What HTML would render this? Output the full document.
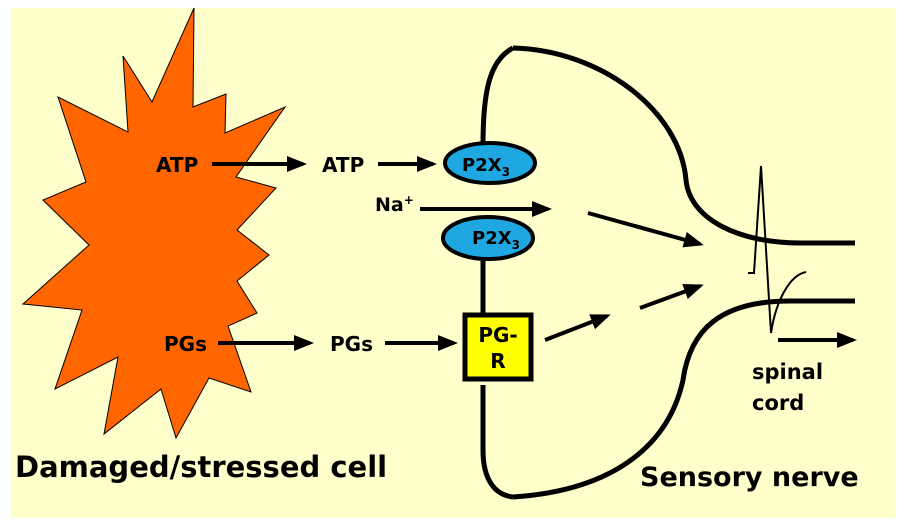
<!DOCTYPE html>
<html><head><meta charset="utf-8"><style>
html,body{margin:0;padding:0;background:#fff;}
svg{display:block;}
text{font-family:"DejaVu Sans","Liberation Sans",sans-serif;font-weight:bold;fill:#000;}
</style></head><body>
<svg width="907" height="520" viewBox="0 0 907 520" xmlns="http://www.w3.org/2000/svg">
<defs>
<marker id="ah" markerWidth="5" markerHeight="4" refX="4" refY="2" orient="auto" markerUnits="strokeWidth">
<path d="M0,0 L5,2 L0,4 Z" fill="#000"/></marker>
</defs>
<rect x="11" y="8" width="885" height="510" fill="#ffffcc"/>
<polygon points="194,8 193,107 226,94 225,133 285,107 236,177 276,188 237,230 269,255 237,281 257,313 228,326 251,392 209,378 176,438 161,389 104,434 118,357 55,389 82,310 23,304 89,245 43,200 86,182 58,97 128,132 123,56 152,102" fill="#ff6600" stroke="#000" stroke-width="1"/>
<g fill="none" stroke="#000" stroke-width="5" stroke-linecap="butt">
<path d="M513,48 C600,50 680,110 686,180 C690,220 740,243 800,243 L855,243"/>
<path d="M513,48 C490,60 483,90 483,145"/>
<path d="M483,385 L483,450 C483,480 495,495 513,497"/>
<path d="M513,497 C620,490 670,440 683,380 C690,330 720,301 790,301 L855,301"/>
<line x1="483" y1="258" x2="483" y2="315"/>
</g>
<g stroke="#000" stroke-width="4" fill="none">
<line x1="212" y1="164" x2="303" y2="164" marker-end="url(#ah)"/>
<line x1="378" y1="164" x2="433" y2="164" marker-end="url(#ah)"/>
<line x1="420" y1="209" x2="548" y2="209" marker-end="url(#ah)"/>
<line x1="588" y1="213" x2="700" y2="244" marker-end="url(#ah)"/>
<line x1="640" y1="308" x2="700" y2="286" marker-end="url(#ah)"/>
<line x1="545" y1="340" x2="607" y2="316" marker-end="url(#ah)"/>
<line x1="218" y1="343" x2="310" y2="343" marker-end="url(#ah)"/>
<line x1="385" y1="343" x2="454" y2="343" marker-end="url(#ah)"/>
<line x1="778" y1="340" x2="853" y2="340" marker-end="url(#ah)"/>
</g>
<path d="M748,273 L754,273 L761,166 L771,333 C776,300 790,275 806,272" fill="none" stroke="#000" stroke-width="2"/>
<ellipse cx="490" cy="163" rx="45" ry="20" fill="#1ea7e1" stroke="#000" stroke-width="4"/>
<ellipse cx="488" cy="238" rx="45" ry="21" fill="#1ea7e1" stroke="#000" stroke-width="4"/>
<rect x="465" y="315" width="66" height="64" fill="#ffff00" stroke="#000" stroke-width="5"/>
<text x="156" y="172" font-size="20">ATP</text>
<text x="322" y="172" font-size="20">ATP</text>
<text x="375" y="211" font-size="19">Na<tspan font-size="12" dy="-7">+</tspan></text>
<text x="462" y="171" font-size="18">P2X<tspan font-size="12" dy="5">3</tspan></text>
<text x="472" y="244" font-size="18">P2X<tspan font-size="12" dy="5">3</tspan></text>
<text x="164" y="351" font-size="20">PGs</text>
<text x="330" y="351" font-size="20">PGs</text>
<text x="498" y="342" font-size="20" text-anchor="middle">PG-</text>
<text x="498" y="368" font-size="20" text-anchor="middle">R</text>
<text x="752" y="379" font-size="21">spinal</text>
<text x="752" y="410" font-size="21">cord</text>
<text x="15" y="477" font-size="29">Damaged/stressed cell</text>
<text x="640" y="486" font-size="27">Sensory nerve</text>
</svg>
</body></html>
